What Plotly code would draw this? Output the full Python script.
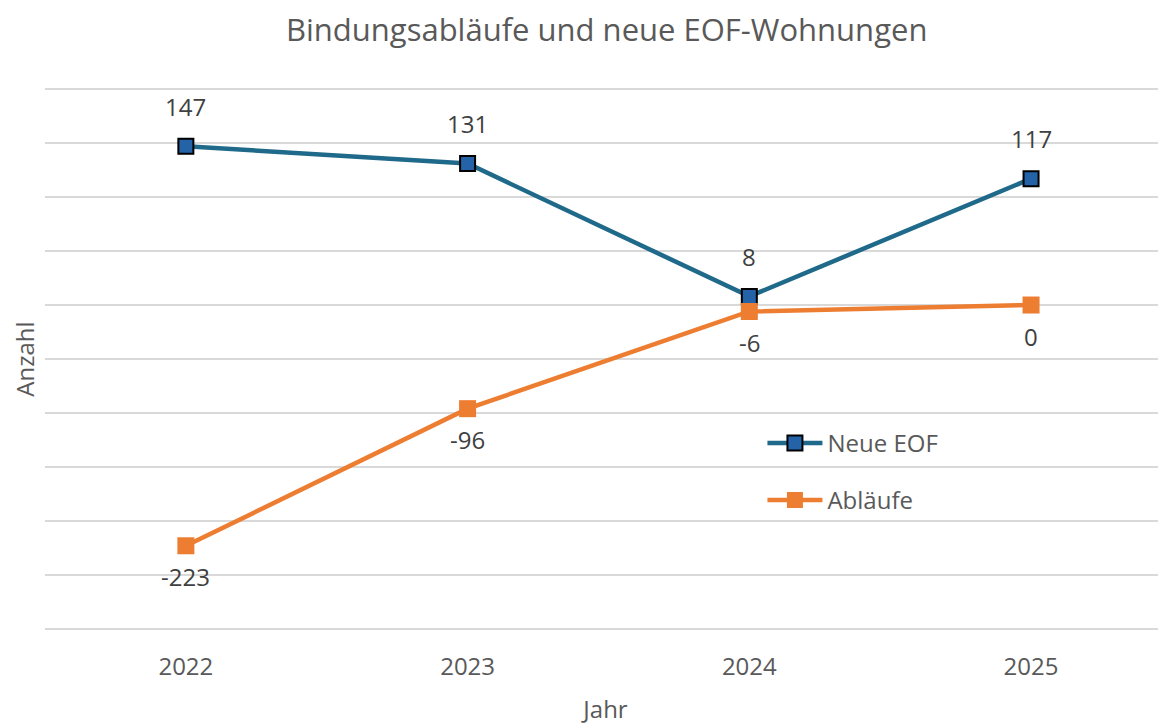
import plotly.graph_objects as go

years = ["2022", "2023", "2024", "2025"]
neue_eof = [147, 131, 8, 117]
ablaeufe = [-223, -96, -6, 0]

title = "Bindungsabläufe und neue EOF-Wohnungen"
font_family = "Open Sans, Noto Sans, sans-serif"

fig = go.Figure()
fig.add_trace(go.Scatter(
    x=years, y=neue_eof, name="Neue EOF", mode="lines+markers",
    line=dict(color="#1F6A8A", width=4.5),
    marker=dict(symbol="square", size=15, color="#2563A8",
                line=dict(color="#000000", width=2)),
    legendgroup="a",
))
fig.add_trace(go.Scatter(
    x=years, y=ablaeufe, name="Abläufe", mode="lines+markers",
    line=dict(color="#ED7D31", width=4.5),
    marker=dict(symbol="square", size=17, color="#ED7D31"),
    legendgroup="b",
))

for i, y in enumerate(neue_eof):
    fig.add_annotation(x=i, y=y, xref="x", yref="y", text=str(y), showarrow=False,
                       yshift=40,
                       font=dict(size=24, color="#404040", family=font_family))
for i, y in enumerate(ablaeufe):
    fig.add_annotation(x=i, y=y, xref="x", yref="y", text=str(y), showarrow=False,
                       yshift=-31,
                       font=dict(size=24, color="#404040", family=font_family))

# page body has an 8px margin; compensate in figure size/margins
fig.update_layout(
    width=1158, height=717,
    paper_bgcolor="white", plot_bgcolor="white",
    margin=dict(l=37, r=0, t=80, b=95),
    title=dict(text=title, x=0.517, xanchor="center", y=0.969, yanchor="middle",
               font=dict(size=31, color="#595959", family=font_family)),
    font=dict(family=font_family, color="#595959"),
    showlegend=True,
    legend=dict(x=0.64, y=0.386, xanchor="left", yanchor="top",
                bgcolor="rgba(0,0,0,0)", tracegroupgap=23, itemwidth=55,
                font=dict(size=24, color="#595959", family=font_family)),
    xaxis=dict(type="category", range=[-0.5, 3.479], showgrid=False,
               showline=False, ticks="", zeroline=False, ticklabelstandoff=20,
               tickfont=dict(size=24, color="#595959"),
               title=dict(text="Jahr", font=dict(size=24, color="#595959"), standoff=20)),
    yaxis=dict(range=[-301, 201], dtick=50, tick0=0, showticklabels=False,
               showgrid=True, gridcolor="#D9D9D9", gridwidth=2, zeroline=False,
               ticks="", showline=False,
               title=dict(text="Anzahl", font=dict(size=24, color="#595959"), standoff=5)),
)

fig.write_html("out.html")
